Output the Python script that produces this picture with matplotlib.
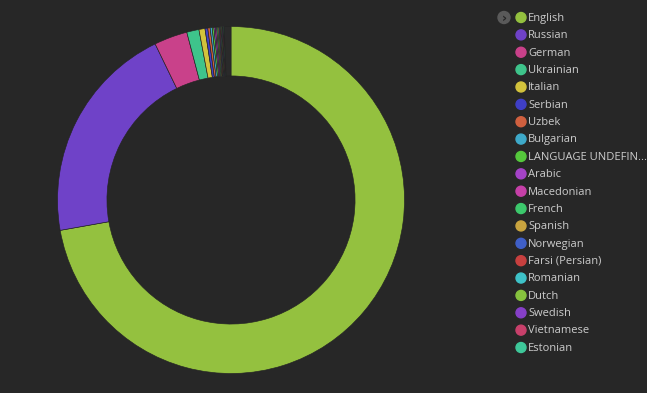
import matplotlib.pyplot as plt
from matplotlib.patches import Circle

# languages shown in the legend, share of documents (%)
languages = ['English', 'Russian', 'German', 'Ukrainian', 'Italian', 'Serbian',
             'Uzbek', 'Bulgarian', 'LANGUAGE UNDEFIN...', 'Arabic', 'Macedonian',
             'French', 'Spanish', 'Norwegian', 'Farsi (Persian)', 'Romanian',
             'Dutch', 'Swedish', 'Vietnamese', 'Estonian']
shares = [72.2, 20.6, 3.1, 1.14, 0.56, 0.26, 0.22, 0.19, 0.16, 0.13, 0.12,
          0.11, 0.10, 0.09, 0.08, 0.07, 0.07, 0.06, 0.06, 0.06]
colors = ['#94c13f', '#6f42c8', '#c9418a', '#3ec48b', '#d2c23c', '#3f3fc6',
          '#d0603f', '#3ea9c9', '#55c83c', '#a443c7', '#c640a8', '#3cc86c',
          '#c9a43f', '#3f5fc7', '#c8403f', '#3ec2c8', '#86c23e', '#8640c8',
          '#c8406b', '#3ec89a']
# remaining tiny languages not listed in the legend
other_share = 0.62

bg = '#272727'
text_color = '#cccccc'

fig = plt.figure(figsize=(6.47, 3.93), dpi=100)
fig.patch.set_facecolor(bg)

W, H = 647, 393
cx, cy, r = 231, 200, 173.5
ax = fig.add_axes([(cx - r) / W, (H - cy - r) / H, 2 * r / W, 2 * r / H])
ax.set_facecolor(bg)

ax.pie(shares + [other_share], colors=colors + ['#2a2a2a'],
       startangle=90, counterclock=False, radius=1,
       wedgeprops=dict(width=0.285, edgecolor='#242424', linewidth=0.45))
ax.set_xlim(-1, 1)
ax.set_ylim(-1, 1)
ax.set_aspect('auto')
ax.axis('off')

# legend drawn by hand
lax = fig.add_axes([0, 0, 1, 1])
lax.set_xlim(0, W)
lax.set_ylim(H, 0)
lax.axis('off')
lax.add_patch(Circle((504, 17.5), 6, color='#5a5a5a'))
lax.text(504.5, 18, '›', color='#262626', fontsize=9, fontweight='bold',
         ha='center', va='center')
y0, dy = 17.5, 17.37
for i, (lang, col) in enumerate(zip(languages, colors)):
    y = y0 + i * dy
    lax.add_patch(Circle((521, y), 5, color=col))
    lax.text(528, y + 0.8, lang, color=text_color, fontsize=8, family='Open Sans',
             ha='left', va='center')

fig.savefig('out.png', dpi=100, facecolor=bg)
